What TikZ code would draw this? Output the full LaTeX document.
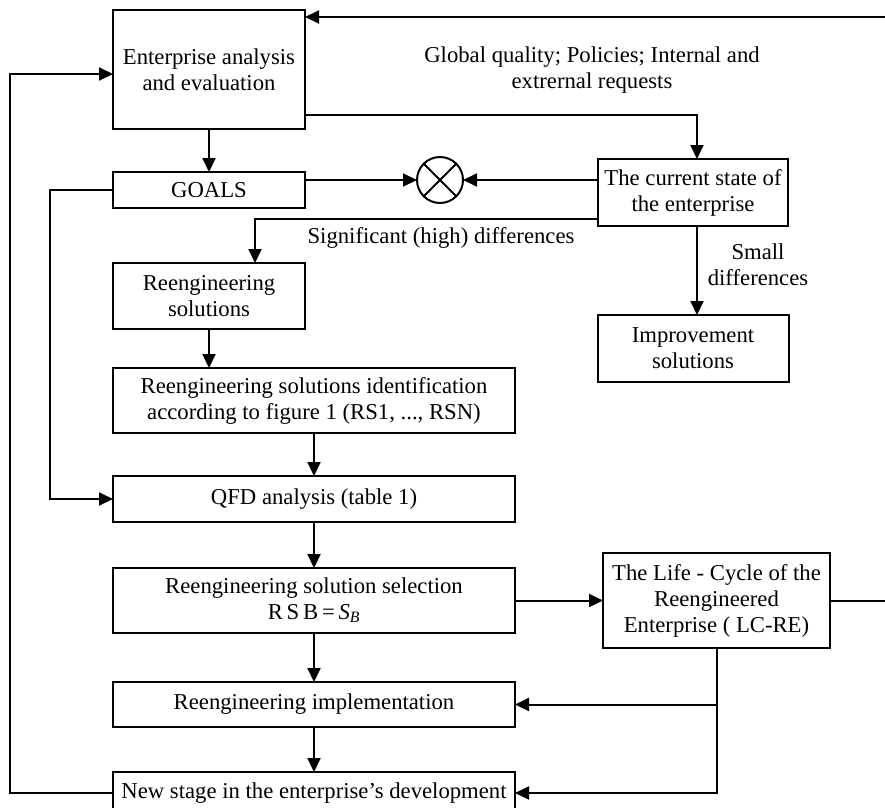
\documentclass[tikz,border=0pt]{standalone}
\usepackage{fontspec}
\setmainfont{Liberation Serif}
\usetikzlibrary{arrows.meta, positioning, calc}

\begin{document}
\begin{tikzpicture}[
    x=1pt, y=-1pt,
    node distance=43pt,
    txt/.style={font=\fontsize{22.7}{26}\selectfont, align=center},
    box/.style={draw, line width=2pt, rectangle, txt, minimum width=192pt, inner sep=2pt, outer sep=0pt},
    widebox/.style={box, minimum width=402pt},
    mixer/.style={draw, line width=2pt, circle, minimum size=46pt, inner sep=0pt, outer sep=0pt},
    arrow/.style={draw, line width=2pt, -{Triangle[length=14pt, width=13pt]}},
    line/.style={draw, line width=2pt}
]
\useasboundingbox (0,0) rectangle (885,807);

\node[box, minimum height=119pt] (enterp) at (209,69.5) {Enterprise analysis\\and evaluation};
\node[box, minimum height=36pt, below=of enterp] (goals) {GOALS};
\node[mixer] (cmp) at (440,180) {};
\node[box, minimum width=190pt, minimum height=67pt] (state) at (693,192.5) {The current state of\\the enterprise};
\node[box, minimum height=66pt, below=55pt of goals] (resol) {Reengineering\\solutions};
\node[box, minimum width=191pt, minimum height=67pt, below=89pt of state] (improv) {Improvement\\solutions};
\node[widebox, minimum height=65pt, below=39pt of resol.south west, anchor=north west] (ident) {Reengineering solutions identification\\according to figure 1 (RS1, ..., RSN)};
\node[widebox, minimum height=46pt, below=of ident] (qfd) {QFD analysis (table 1)};
\node[widebox, minimum height=65pt, below=46pt of qfd] (select) {Reengineering solution selection\\R\,S\,B\,=\,\textit{S}\textsubscript{\textit{B}}};
\node[box, minimum width=227pt, minimum height=95pt, right=88pt of select] (lc) {The Life - Cycle of the\\Reengineered\\Enterprise ( LC-RE)};
\node[widebox, minimum height=45pt, below=49pt of select] (impl) {Reengineering implementation};
\node[widebox, minimum height=42pt, below=45pt of impl] (newst) {New stage in the enterprise's development};

% labels
\node[txt] (inputs) at (592,70) {Global quality; Policies; Internal and\\extrernal requests};
\node[txt] (bigdiff) at (441,238) {Significant (high) differences};
\node[txt] (smalldiff) at (758,265) {Small\\differences};

\coordinate (topin) at (885,17);
\coordinate (lcout) at ($(lc.east)+(55,0)$);

\draw[arrow] (topin) -- (topin -| enterp.east);
\draw[arrow] ([yshift=14pt]enterp.south east) -| ([xshift=4pt]state.north);
\draw[arrow] (enterp) -- (goals);
\draw[arrow] (goals.east |- cmp) -- (cmp);
\draw[arrow] (state.west |- cmp) -- (cmp);
\draw[line] (cmp.north west) -- (cmp.south east) (cmp.north east) -- (cmp.south west);
\draw[arrow] ([yshift=7pt]state.south west) -| ([xshift=46pt]resol.north);
\draw[arrow] ([xshift=4pt]state.south) -- ([xshift=4pt]improv.north);
\draw[arrow] (resol) -- (resol |- ident.north);
\draw[arrow] (ident) -- (qfd);
\draw[arrow] (goals.west) -- ++(-63,0) |- (qfd.west);
\draw[arrow] (qfd) -- (select);
\draw[arrow] (select) -- (lc);
\draw[line] (lc.east) -- (lcout);
\draw[arrow] (select) -- (impl);
\draw[arrow] (impl) -- (newst);
\draw[arrow] (lc.south) |- (newst.east);
\draw[arrow] (lc.south |- impl.east) -- (impl.east);
\draw[arrow] (newst.west) -- ++(-103,0) |- ([yshift=-4.5pt]enterp.west);

\end{tikzpicture}
\end{document}
